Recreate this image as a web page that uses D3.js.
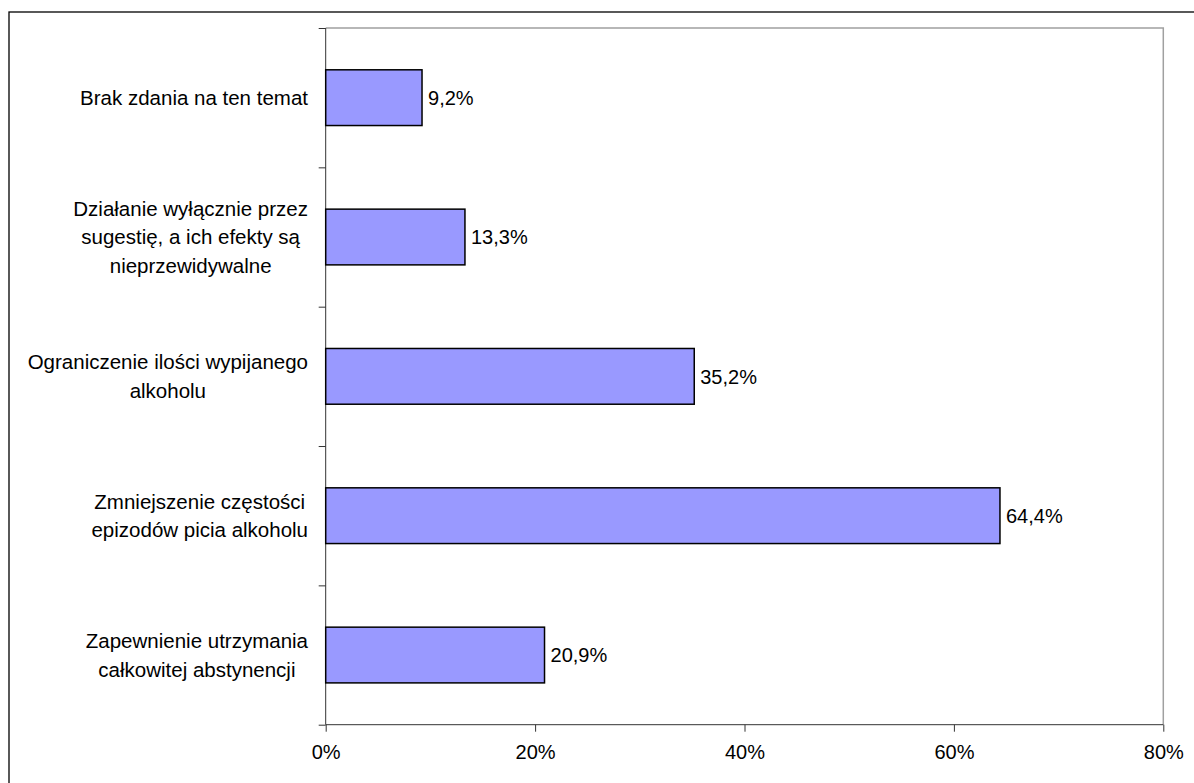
<!DOCTYPE html>
<html>
<head lang="pl">
    <meta charset="UTF-8">
    <title></title>
    <script src="https://cdn.jsdelivr.net/npm/d3@7/dist/d3.min.js" charset="UTF-8"></script>
    <style>
        body{margin:0;background:#fff;}
        text{font-family:"Liberation Sans",Arial,sans-serif;fill:#000;}
    </style>
</head>
<body>
<script>
    // kategorie od góry do dołu, etykiety podzielone na linie
    var categories=[
        ["Brak zdania na ten temat"],
        ["Działanie wyłącznie przez","sugestię, a ich efekty są","nieprzewidywalne"],
        ["Ograniczenie ilości wypijanego","alkoholu"],
        ["Zmniejszenie częstości","epizodów picia alkoholu"],
        ["Zapewnienie utrzymania","całkowitej abstynencji"]
    ];
    var values=[9.2,13.3,35.2,64.4,20.9];
    var xTicks=[0,20,40,60,80];

    var W=1194,H=783;
    var margin={left:325.7,top:28,right:W-1163.3,bottom:H-724.7};
    var w=W-margin.left-margin.right,h=H-margin.top-margin.bottom;

    var svg=d3.select("body").append("svg")
            .attr("width",W).attr("height",H);

    // ramka całego wykresu
    svg.append("rect")
            .attr("x",9).attr("y",12)
            .attr("width",1200).attr("height",800)
            .attr("fill","none").attr("stroke","#000").attr("stroke-width",1.3);

    var g=svg.append("g").attr("transform","translate("+margin.left+","+margin.top+")");

    var x=d3.scaleLinear().domain([0,80]).range([0,w]);
    var idx=d3.range(categories.length);
    var y=d3.scaleBand().domain(idx).range([0,h]).paddingInner(0.6).paddingOuter(0.3);

    // szara ramka obszaru wykresu (góra i prawa)
    g.append("path")
            .attr("d","M0,0H"+w+"V"+h)
            .attr("fill","none").attr("stroke","#a0a0a0").attr("stroke-width",1.5);

    // oś X
    var xAxis=g.append("g").attr("transform","translate(0,"+h+")")
            .call(d3.axisBottom(x).tickValues(xTicks).tickSize(7).tickPadding(13)
                    .tickFormat(function(d){return d+"%";}));
    xAxis.select(".domain").attr("stroke","#333").attr("d","M0,0H"+w);
    xAxis.selectAll(".tick line").attr("stroke","#333");
    xAxis.selectAll("text").style("font-size","20px");

    // oś Y - kreski na granicach kategorii
    var yb=d3.scaleLinear().domain([0,categories.length]).range([0,h]);
    var yAxis=g.append("g")
            .call(d3.axisLeft(yb).ticks(categories.length).tickSize(7).tickFormat(""));
    yAxis.select(".domain").attr("stroke","#333").attr("d","M0,0V"+h);
    yAxis.selectAll(".tick line").attr("stroke","#333");

    // słupki
    g.selectAll("rect.bar")
            .data(values)
            .enter()
            .append("rect")
            .attr("class","bar")
            .attr("x",0)
            .attr("y",function(d,i){return y(i);})
            .attr("width",function(d){return x(d);})
            .attr("height",y.bandwidth())
            .attr("fill","#9999ff")
            .attr("stroke","#000")
            .attr("stroke-width",1.5);

    // wartości
    g.selectAll("text.val")
            .data(values)
            .enter()
            .append("text")
            .attr("class","val")
            .attr("x",function(d){return x(d)+6;})
            .attr("y",function(d,i){return y(i)+y.bandwidth()/2;})
            .attr("dy","0.36em")
            .style("font-size","20px")
            .text(function(d){return d3.format(".1f")(d).replace(".",",")+"%";});

    // etykiety kategorii: blok wyrównany do prawej, linie wyśrodkowane
    var lineH=28.5;
    categories.forEach(function(lines,i){
        var cy=margin.top+y(i)+y.bandwidth()/2;
        var t=svg.append("text")
                .attr("text-anchor","middle")
                .style("font-size","20.5px");
        lines.forEach(function(s,j){
            t.append("tspan")
                    .attr("y",cy+(j-(lines.length-1)/2)*lineH)
                    .attr("dy","0.36em")
                    .text(s);
        });
        var maxW=0;
        t.selectAll("tspan").each(function(){
            maxW=Math.max(maxW,this.getComputedTextLength());
        });
        t.selectAll("tspan").attr("x",308-maxW/2);
    });
</script>
</body>
</html>
